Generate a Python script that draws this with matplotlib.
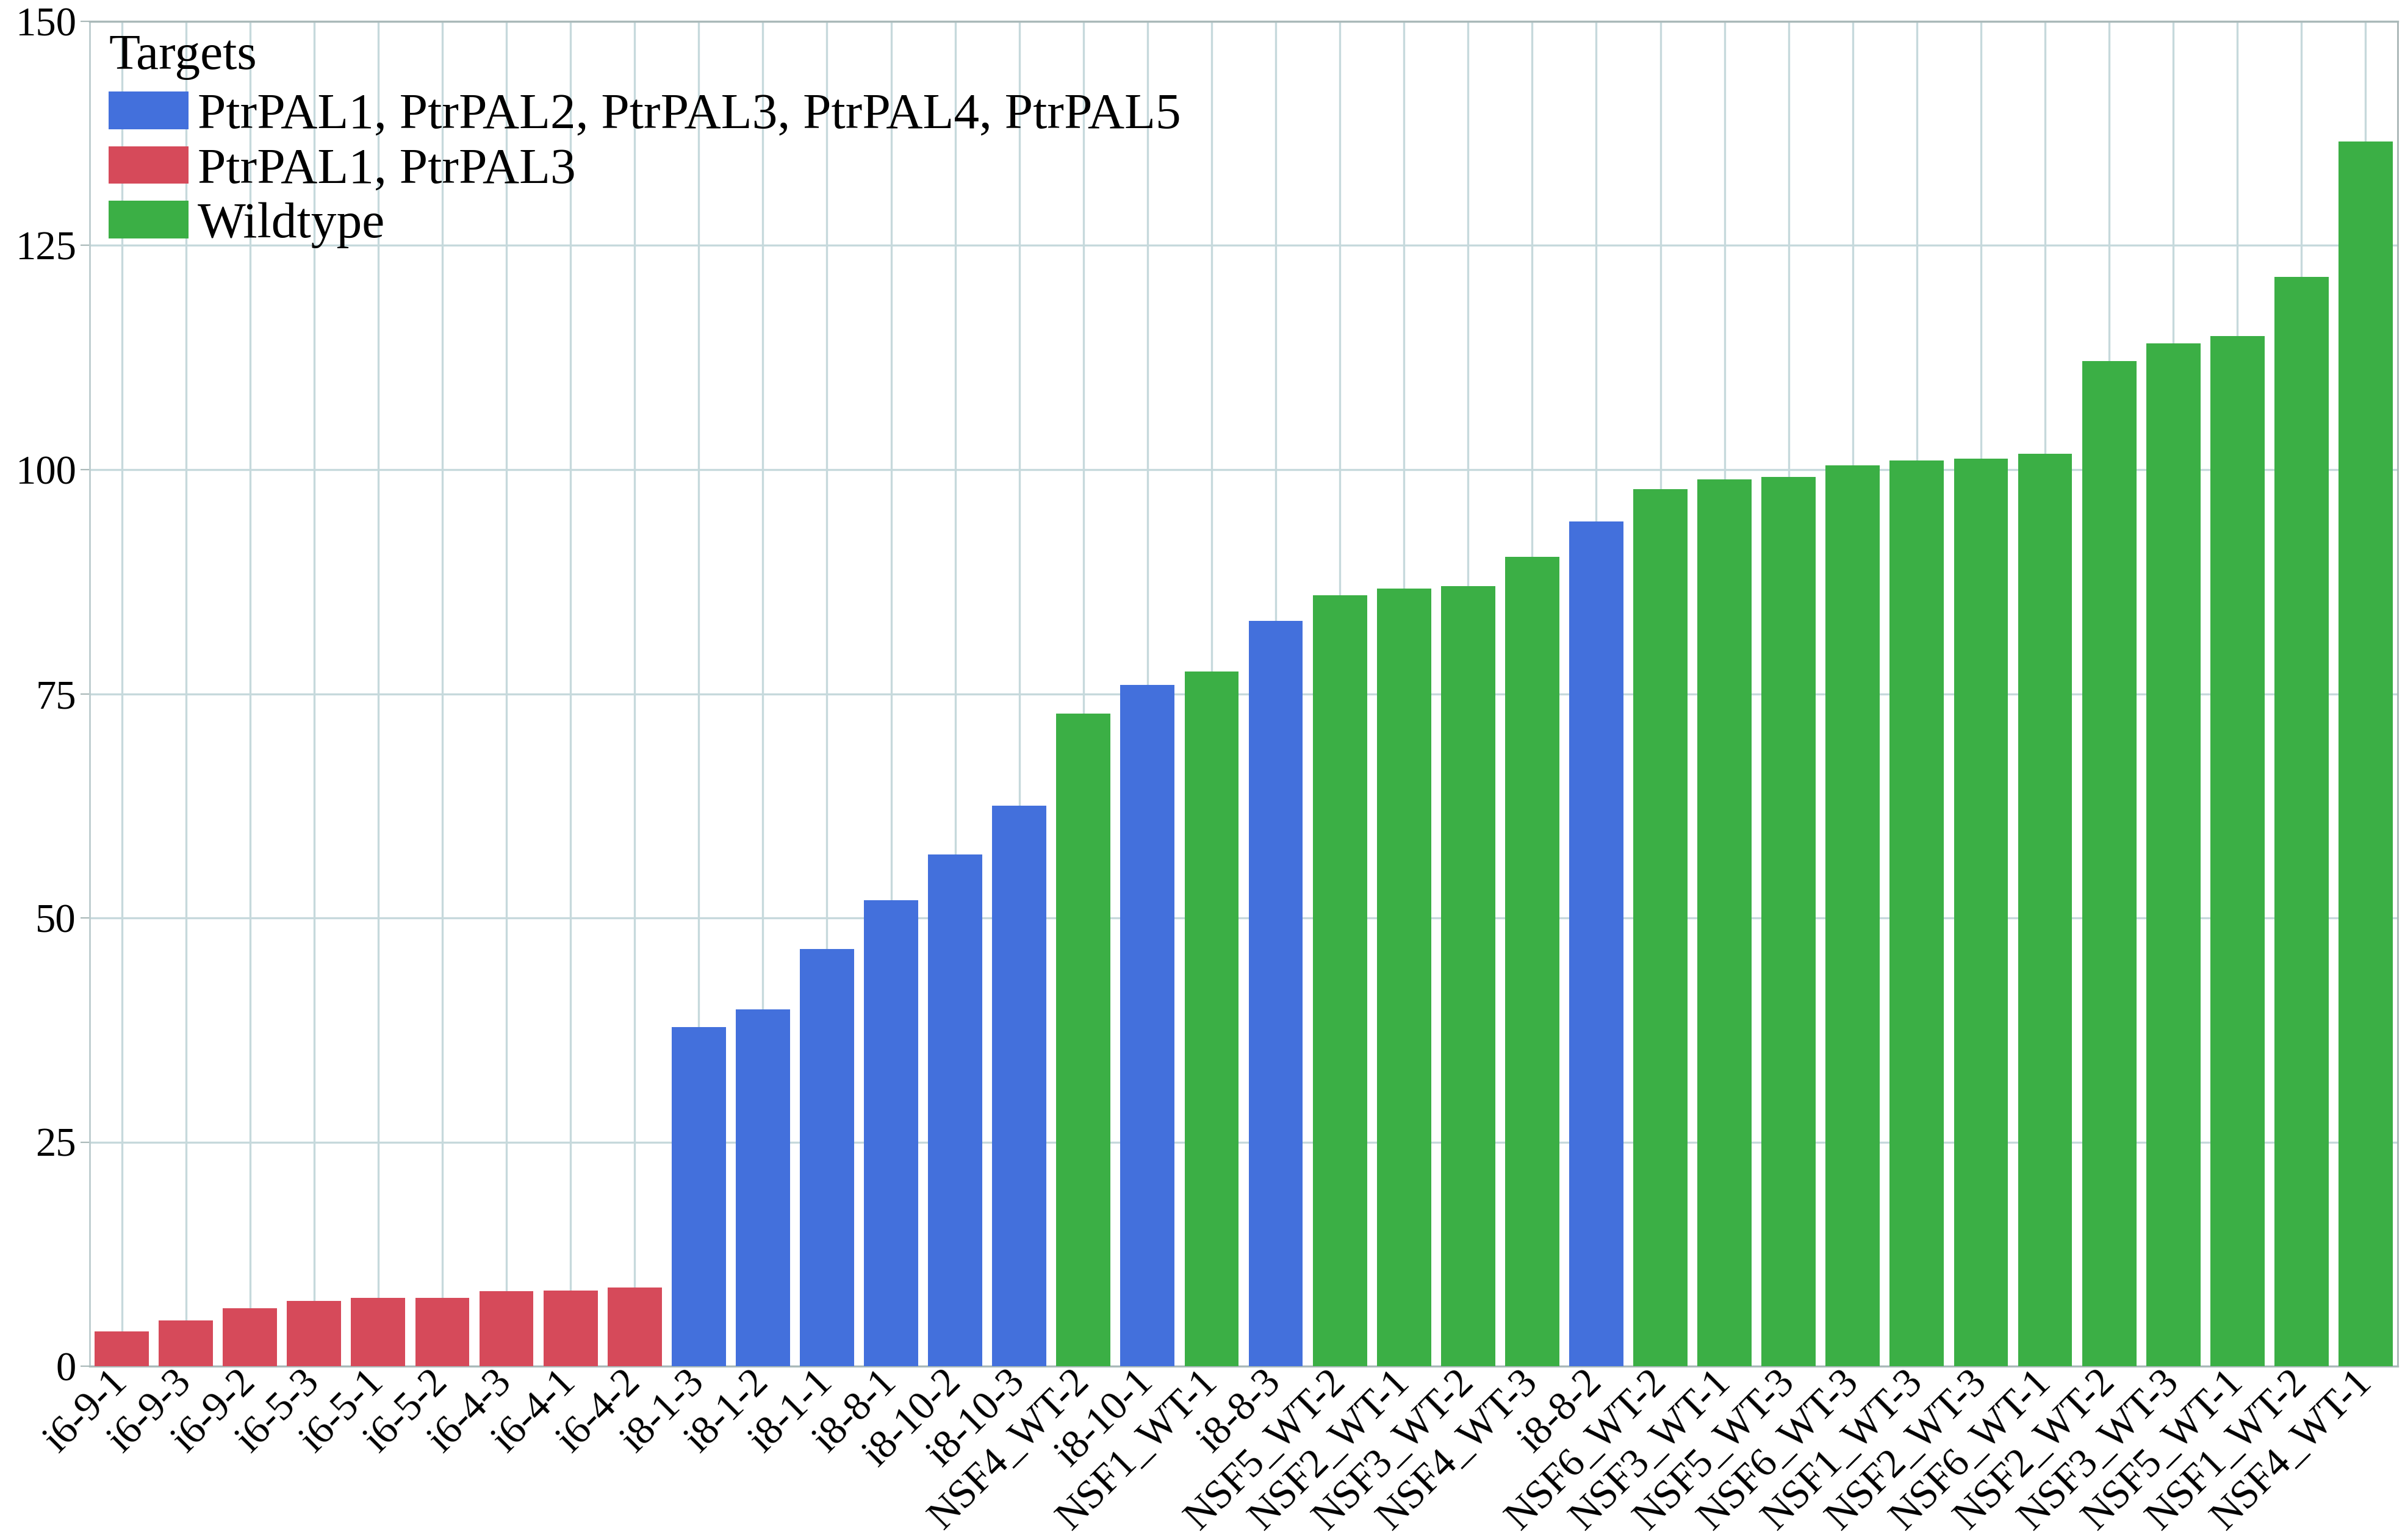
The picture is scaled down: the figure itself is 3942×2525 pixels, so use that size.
import matplotlib
matplotlib.use("Agg")
import matplotlib.pyplot as plt
from matplotlib.patches import Patch
from matplotlib.transforms import ScaledTranslation

labels = ["i6-9-1", "i6-9-3", "i6-9-2", "i6-5-3", "i6-5-1", "i6-5-2", "i6-4-3", "i6-4-1", "i6-4-2",
          "i8-1-3", "i8-1-2", "i8-1-1", "i8-8-1", "i8-10-2", "i8-10-3", "NSF4_WT-2", "i8-10-1",
          "NSF1_WT-1", "i8-8-3", "NSF5_WT-2", "NSF2_WT-1", "NSF3_WT-2", "NSF4_WT-3", "i8-8-2",
          "NSF6_WT-2", "NSF3_WT-1", "NSF5_WT-3", "NSF6_WT-3", "NSF1_WT-3", "NSF2_WT-3", "NSF6_WT-1",
          "NSF2_WT-2", "NSF3_WT-3", "NSF5_WT-1", "NSF1_WT-2", "NSF4_WT-1"]
values = [3.9, 5.1, 6.45, 7.3, 7.6, 7.6, 8.4, 8.45, 8.8,
          37.8, 39.8, 46.5, 52.0, 57.05, 62.5, 72.8, 76.0,
          77.45, 83.15, 86.0, 86.75, 87.0, 90.25, 94.2,
          97.85, 98.9, 99.15, 100.45, 101.05, 101.2, 101.75,
          112.1, 114.1, 114.9, 121.5, 136.6]
groups = ["PtrPAL1, PtrPAL3"] * 9 + ["PtrPAL1, PtrPAL2, PtrPAL3, PtrPAL4, PtrPAL5"] * 6 + \
         ["Wildtype", "PtrPAL1, PtrPAL2, PtrPAL3, PtrPAL4, PtrPAL5", "Wildtype",
          "PtrPAL1, PtrPAL2, PtrPAL3, PtrPAL4, PtrPAL5"] + ["Wildtype"] * 4 + \
         ["PtrPAL1, PtrPAL2, PtrPAL3, PtrPAL4, PtrPAL5"] + ["Wildtype"] * 12
legend_title = "Targets"
legend_order = ["PtrPAL1, PtrPAL2, PtrPAL3, PtrPAL4, PtrPAL5", "PtrPAL1, PtrPAL3", "Wildtype"]
group_colors = {"PtrPAL1, PtrPAL2, PtrPAL3, PtrPAL4, PtrPAL5": "#4370DC",
                "PtrPAL1, PtrPAL3": "#D64A5A",
                "Wildtype": "#3BAF45"}
yticks = [0, 25, 50, 75, 100, 125, 150]

plt.rcParams['font.family'] = ['Liberation Serif', 'DejaVu Serif']

W, H = 3942, 2525
fig = plt.figure(figsize=(W / 100, H / 100), dpi=100)
ax = fig.add_axes([147 / W, 1 - 2240 / H, (3930 - 147) / W, (2240 - 35) / H])

x = list(range(len(labels)))
ax.bar(x, values, width=0.845, color=[group_colors[g] for g in groups], zorder=3)

ax.set_xlim(-0.5, len(labels) - 0.5)
ax.set_ylim(0, 150)
ax.set_yticks(yticks)
ax.set_yticklabels([str(t) for t in yticks])
ax.set_xticks(x)
ax.set_xticklabels(labels, rotation=45, ha='right', va='center', rotation_mode='anchor')
shift = ScaledTranslation(10 / 100, 0, fig.dpi_scale_trans)
for lab in ax.get_xticklabels():
    lab.set_transform(lab.get_transform() + shift)

grid_color = '#C6D9DC'
ax.grid(True, axis='both', color=grid_color, linewidth=2.4, zorder=0)
ax.set_axisbelow(True)

for s in ['top', 'bottom']:
    ax.spines[s].set_color('#AAB9B9')
    ax.spines[s].set_linewidth(2.4)
ax.spines['left'].set_color('#BCCCCE')
ax.spines['left'].set_linewidth(2.0)
ax.spines['right'].set_color('#A8B4B4')
ax.spines['right'].set_linewidth(2.0)

ax.tick_params(axis='y', labelsize=48, length=11, width=1.6, color='#AAB9B9', pad=5)
ax.tick_params(axis='x', labelsize=48, length=0, pad=12)

# legend title and entries
fig.text(178 / W, 1 - 113 / H, legend_title, fontsize=60, ha='left', va='baseline')
handles = [Patch(facecolor=group_colors[g], edgecolor='none') for g in legend_order]
leg = ax.legend(handles, legend_order, loc='upper left',
                bbox_to_anchor=(178 / W, 1 - 150 / H), bbox_transform=fig.transFigure,
                frameon=False, fontsize=60,
                handlelength=1.575, handleheight=0.76, handletextpad=0.18, labelspacing=0.14,
                borderpad=0.0, borderaxespad=0.0)

fig.savefig("out.png", dpi=100, facecolor='white')
